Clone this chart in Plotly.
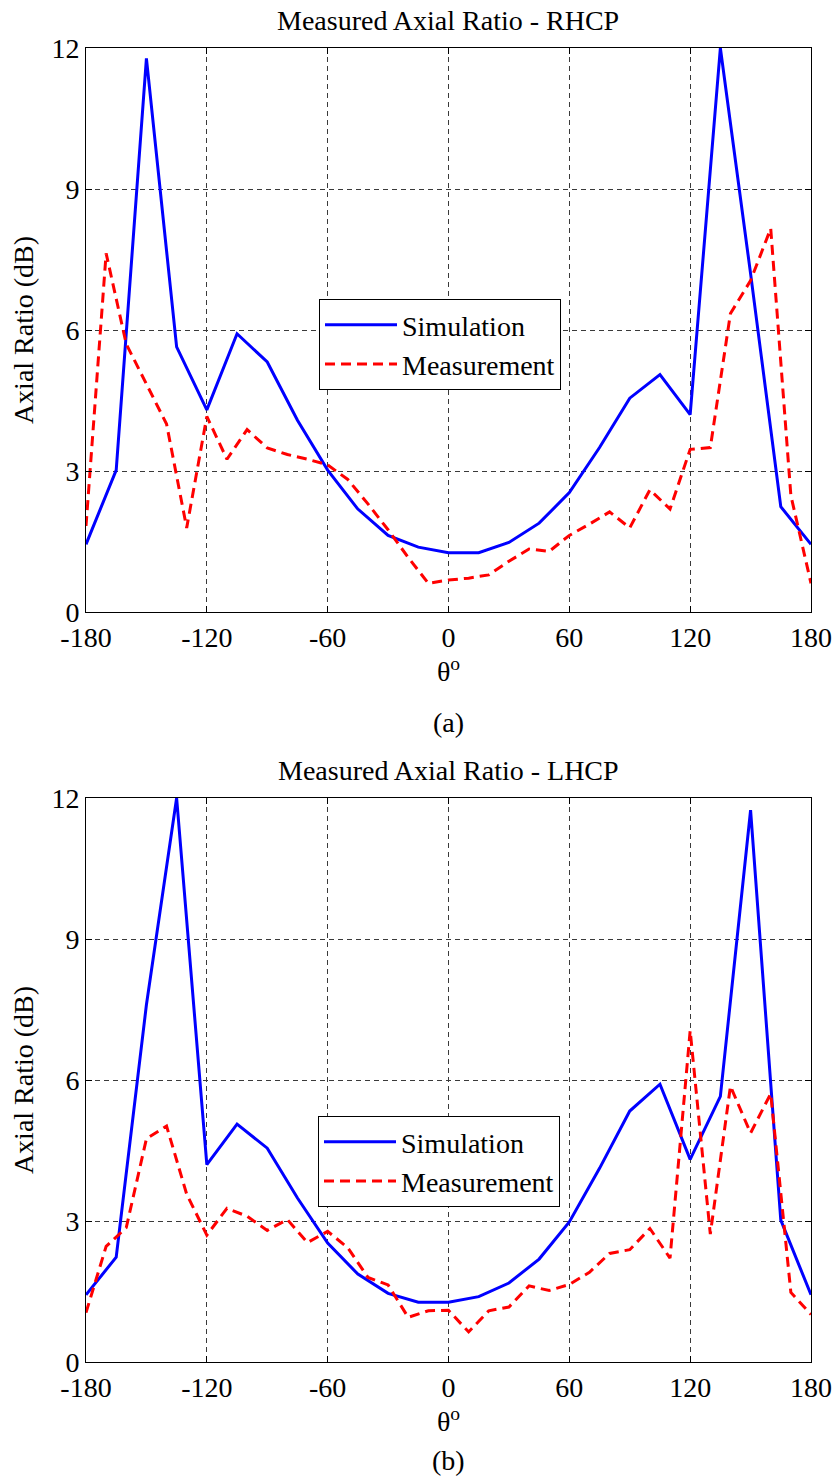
import plotly.graph_objects as go

# ---------------- data ----------------
theta_sim = [-180, -165, -150, -135, -120, -105, -90, -75, -60, -45, -30, -15, 0,
             15, 30, 45, 60, 75, 90, 105, 120, 135, 150, 165, 180]
theta_meas = [-180, -170, -160, -150, -140, -130, -120, -110, -100, -90, -80, -70, -60,
              -50, -40, -30, -20, -10, 0, 10, 20, 30, 40, 50, 60, 70, 80, 90, 100,
              110, 120, 130, 140, 150, 160, 170, 180]

rhcp_sim = [1.44, 3.02, 11.78, 5.64, 4.30, 5.92, 5.32, 4.08, 3.02, 2.19, 1.63, 1.38, 1.26,
            1.26, 1.48, 1.89, 2.54, 3.50, 4.55, 5.05, 4.20, 12.0, 7.2, 2.24, 1.44]
rhcp_meas = [1.83, 7.63, 5.70, 4.85, 4.00, 1.79, 4.16, 3.25, 3.88, 3.49, 3.35, 3.25, 3.13,
             2.82, 2.30, 1.75, 1.16, 0.61, 0.68, 0.72, 0.79, 1.08, 1.34, 1.29, 1.63, 1.87,
             2.13, 1.79, 2.60, 2.19, 3.46, 3.50, 6.35, 7.05, 8.16, 2.48, 0.61]

lhcp_sim = [1.43, 2.23, 7.60, 12.0, 4.20, 5.06, 4.55, 3.49, 2.53, 1.87, 1.46, 1.27, 1.27,
            1.39, 1.68, 2.19, 2.98, 4.12, 5.34, 5.91, 4.31, 5.65, 11.74, 3.02, 1.43]
lhcp_meas = [1.05, 2.46, 2.86, 4.75, 5.02, 3.57, 2.70, 3.27, 3.10, 2.80, 3.03, 2.54, 2.78,
             2.43, 1.80, 1.64, 0.95, 1.09, 1.10, 0.64, 1.09, 1.17, 1.62, 1.52, 1.65, 1.91,
             2.31, 2.39, 2.84, 2.21, 7.05, 2.72, 5.87, 4.87, 5.71, 1.48, 1.01]

x_ticks = [-180, -120, -60, 0, 60, 120, 180]
y_ticks = [0, 3, 6, 9, 12]
series_names = ["Simulation", "Measurement"]
titles = ["Measured Axial Ratio - RHCP", "Measured Axial Ratio - LHCP"]
captions = ["(a)", "(b)"]

# ---------------- figure ----------------
W, H = 837, 1483
FONT = "Liberation Serif, Times New Roman, Times, serif"
FS = 28
BLUE = "#0000FF"
RED = "#FF0000"

fig = go.Figure()

def add_pair(sim, meas, xa, ya, leg):
    fig.add_trace(go.Scatter(x=theta_sim, y=sim, mode="lines", name=series_names[0],
                             line=dict(color=BLUE, width=3),
                             xaxis=xa, yaxis=ya, legend=leg))
    fig.add_trace(go.Scatter(x=theta_meas, y=meas, mode="lines", name=series_names[1],
                             line=dict(color=RED, width=3, dash="10px,6px"),
                             xaxis=xa, yaxis=ya, legend=leg))

add_pair(rhcp_sim, rhcp_meas, "x", "y", "legend")
add_pair(lhcp_sim, lhcp_meas, "x2", "y2", "legend2")

x_dom = [86 / W, 811 / W]
y_dom_top = [(H - 612) / H, (H - 48) / H]
y_dom_bot = [(H - 1362) / H, (H - 798) / H]

common = dict(showline=True, linecolor="black", linewidth=1, mirror="ticks",
              ticks="inside", ticklen=6, tickcolor="black",
              showgrid=True, gridcolor="#3a3a3a", gridwidth=1, griddash="5px,4px",
              zeroline=False, automargin=False,
              tickfont=dict(family=FONT, size=FS, color="black"))

xcommon = dict(common, range=[-180, 180], tickvals=x_ticks,
               ticktext=[str(v) for v in x_ticks],
               title=dict(text="θ<sup>o</sup>", font=dict(family=FONT, size=FS, color="black"),
                          standoff=1))
ycommon = dict(common, range=[0, 12], tickvals=y_ticks,
               ticktext=[str(v) for v in y_ticks],
               title=dict(text="Axial Ratio (dB)", font=dict(family=FONT, size=FS, color="black"),
                          standoff=9))

legend_common = dict(xanchor="left", yanchor="top", bgcolor="white",
                     bordercolor="black", borderwidth=1,
                     font=dict(family=FONT, size=FS, color="black"),
                     tracegroupgap=0, itemwidth=72)

fig.update_layout(
    width=W, height=H,
    margin=dict(l=0, r=0, t=0, b=0, autoexpand=False),
    paper_bgcolor="white", plot_bgcolor="white",
    font=dict(family=FONT, size=FS, color="black"),
    xaxis=dict(xcommon, domain=x_dom, anchor="y"),
    yaxis=dict(ycommon, domain=y_dom_top, anchor="x"),
    xaxis2=dict(xcommon, domain=x_dom, anchor="y2"),
    yaxis2=dict(ycommon, domain=y_dom_bot, anchor="x2"),
    legend=dict(legend_common, x=319 / W, y=(H - 299) / H),
    legend2=dict(legend_common, x=318 / W, y=(H - 1116) / H),
    annotations=[
        dict(text=titles[0], x=448 / W, y=(H - 20) / H, xref="paper", yref="paper",
             xanchor="center", yanchor="middle", showarrow=False,
             font=dict(family=FONT, size=FS, color="black")),
        dict(text=titles[1], x=448 / W, y=(H - 770) / H, xref="paper", yref="paper",
             xanchor="center", yanchor="middle", showarrow=False,
             font=dict(family=FONT, size=FS, color="black")),
        dict(text=captions[0], x=448 / W, y=(H - 722) / H, xref="paper", yref="paper",
             xanchor="center", yanchor="middle", showarrow=False,
             font=dict(family=FONT, size=FS, color="black")),
        dict(text=captions[1], x=448 / W, y=(H - 1460) / H, xref="paper", yref="paper",
             xanchor="center", yanchor="middle", showarrow=False,
             font=dict(family=FONT, size=FS, color="black")),
    ],
)

fig.write_html("out.html")
